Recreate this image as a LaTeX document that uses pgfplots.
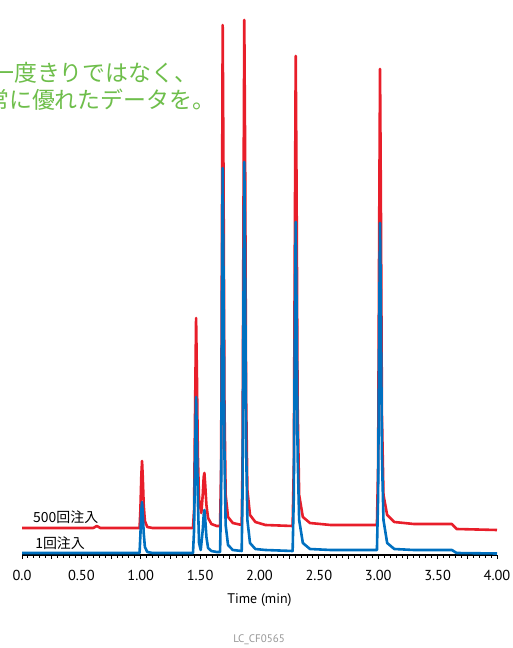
\documentclass[border=0pt]{standalone}
\usepackage{fontspec}
\setmainfont{PT Sans}
\newfontfamily\jp{Noto Sans CJK JP}
\usepackage{pgfplots}
\pgfplotsset{compat=1.18}
\definecolor{redc}{RGB}{232,30,42}
\definecolor{bluec}{RGB}{0,112,192}
\definecolor{greenc}{RGB}{110,190,75}
\definecolor{grayc}{RGB}{150,150,150}

\pgfplotstableread{
x y
0.000 27
0.300 27
0.600 27
0.630 29
0.660 27
0.990 27
0.997 45
1.005 80
1.011 94
1.017 78
1.025 50
1.035 34
1.055 28
1.100 27
1.440 27
1.449 45
1.458 150
1.466 237
1.473 180
1.481 100
1.491 55
1.510 42
1.522 60
1.530 78
1.536 82
1.543 70
1.553 50
1.567 37
1.595 31
1.640 29
1.668 29
1.677 90
1.684 330
1.690 530
1.697 380
1.705 150
1.715 60
1.735 38
1.775 32
1.850 30
1.857 90
1.865 340
1.872 535
1.879 400
1.887 160
1.898 65
1.920 40
1.965 33
2.050 30
2.279 29
2.289 90
2.298 330
2.305 499
2.312 370
2.321 150
2.334 60
2.365 38
2.425 32
2.600 30
2.989 30
2.999 90
3.008 330
3.015 486
3.022 360
3.031 140
3.044 60
3.075 40
3.135 33
3.300 31
3.620 31
3.660 26
4.000 25
}\redtable

\pgfplotstableread{
x y
0.000 2
0.990 2
0.997 20
1.005 45
1.011 53
1.017 42
1.025 22
1.035 8
1.055 3
1.100 2
1.440 2
1.449 25
1.458 100
1.466 158
1.473 115
1.481 55
1.491 12
1.505 5
1.522 25
1.530 40
1.536 45
1.543 36
1.553 18
1.567 7
1.595 4
1.640 3
1.668 3
1.677 60
1.684 250
1.690 387
1.697 280
1.705 100
1.715 30
1.735 10
1.775 5
1.850 4
1.857 60
1.865 250
1.872 393
1.879 290
1.887 110
1.898 35
1.920 12
1.965 6
2.050 5
2.279 4
2.289 60
2.298 230
2.305 333
2.312 250
2.321 100
2.334 35
2.365 12
2.425 6
2.600 5
2.989 5
2.999 60
3.008 230
3.015 332
3.022 250
3.031 100
3.044 35
3.075 12
3.135 6
3.300 5
3.620 5
3.660 2
4.000 1.5
}\bluetable

\begin{document}
\begin{tikzpicture}
\path[use as bounding box] (-22bp,-93bp) rectangle (491bp,555bp);
\begin{axis}[
  at={(0,0)}, anchor=south west,
  scale only axis, width=475bp, height=540bp,
  xmin=0, xmax=4, ymin=0, ymax=540,
  axis x line=bottom, axis y line=none,
  x axis line style={-, line width=1.5bp, black},
  xtick={0,0.25,0.5,0.75,1,1.25,1.5,1.75,2,2.25,2.5,2.75,3,3.25,3.5,3.75,4},
  xticklabels={0.0,,0.50,,1.00,,1.50,,2.00,,2.50,,3.00,,3.50,,4.00},
  minor x tick num=4,
  tick align=outside,
  major tick length=4bp, minor tick length=2.5bp,
  every tick/.style={black, line width=1bp},
  xticklabel style={font=\fontsize{14.5}{16}\selectfont, anchor=base, yshift=-21bp},
  xlabel={Time (min)},
  xlabel style={font=\fontsize{14}{16}\selectfont, at={(axis description cs:0.5,0)}, anchor=center, yshift=-45bp},
  clip=false,
]
\addplot[redc, line width=2.6bp, line join=round] table[x=x,y=y] {\redtable};
\addplot[bluec, line width=2.6bp, line join=round] table[x=x,y=y] {\bluetable};
\node[anchor=west, inner sep=0, font=\jp\fontsize{14}{16}\selectfont] at (axis cs:0.093,38) {500回注入};
\node[anchor=west, inner sep=0, font=\jp\fontsize{14}{16}\selectfont] at (axis cs:0.11,12) {1回注入};
\end{axis}
\node[anchor=west, inner sep=0, text=greenc, font=\jp\fontsize{23}{27}\selectfont] at (-31bp,482bp) {一度きりではなく、};
\node[anchor=west, inner sep=0, text=greenc, font=\jp\fontsize{23}{27}\selectfont] at (-36bp,455bp) {常に優れたデータを。};
\node[anchor=center, inner sep=0, text=grayc, font=\fontsize{11}{13}\selectfont] at (237bp,-85bp) {LC\_CF0565};
\end{tikzpicture}
\end{document}
